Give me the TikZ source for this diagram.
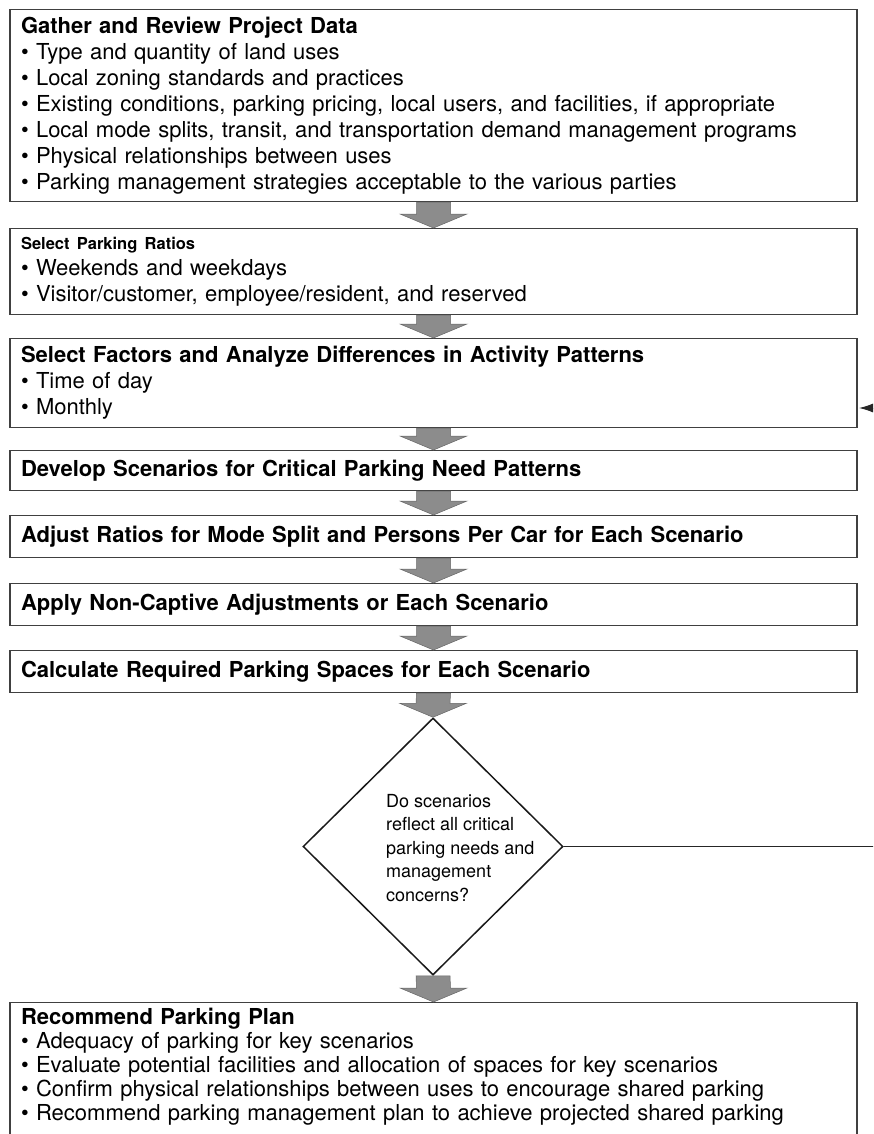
\documentclass[tikz,border=0pt]{standalone}
\usepackage{fontspec}
\setmainfont{TeX Gyre Heros}
\usetikzlibrary{shapes.geometric,arrows.meta,calc}

\newcommand{\bul}{\textbullet\ }
% gray block arrow from the bottom of one step to the top of the next
\newcommand{\flowarrow}[2]{%
  \draw[blockarrow] ($(#1.south)+(-17,0)$) -- ($(#2.north)+(-17,-14)$)
    -- ($(#2.north)+(-33.5,-14)$) -- (#2.north) -- ($(#2.north)+(33.5,-14)$)
    -- ($(#2.north)+(17,-14)$) -- ($(#1.south)+(17,0)$) -- cycle;}

\begin{document}
\begin{tikzpicture}[x=1pt,y=-1pt,
  stepbox/.style={draw=black!75,line width=1.1pt,anchor=north,
    minimum width=847pt,text width=825pt,inner xsep=11pt,inner ysep=0pt,
    align=left,font=\fontsize{22}{26}\selectfont},
  blockarrow/.style={fill=black!45,draw=black!60,line width=0.5pt},
  decide/.style={diamond,draw=black!90,line width=1.5pt,aspect=1,
    minimum width=260pt,minimum height=257pt,inner sep=0pt},
  asktext/.style={anchor=west,align=left,inner sep=0pt,
    font=\fontsize{18}{23.5}\selectfont}]
  \useasboundingbox (0,0) rectangle (873,1134);
  \clip (0,0) rectangle (873,1134);

  \node[stepbox,minimum height=192pt] (data) at (433.5,9) {\textbf{Gather and Review Project Data}\\
    \bul Type and quantity of land uses\\
    \bul Local zoning standards and practices\\
    \bul Existing conditions, parking pricing, local users, and facilities, if appropriate\\
    \bul Local mode splits, transit, and transportation demand management programs\\
    \bul Physical relationships between uses\\
    \bul Parking management strategies acceptable to the various parties};
  \node[stepbox,minimum height=86pt] (ratios) at (433.5,228) {{\fontsize{16.5}{18}\selectfont\bfseries Select Parking Ratios}\\
    \bul Weekends and weekdays\\
    \bul Visitor/customer, employee/resident, and reserved};
  \node[stepbox,minimum height=89pt] (factors) at (433.5,338) {\textbf{Select Factors and Analyze Differences in Activity Patterns}\\
    \bul Time of day\\
    \bul Monthly};
  \node[stepbox,minimum height=40pt] (scen) at (433.5,450) {\textbf{Develop Scenarios for Critical Parking Need Patterns}};
  \node[stepbox,minimum height=42pt] (adjust) at (433.5,515) {\textbf{Adjust Ratios for Mode Split and Persons Per Car for Each Scenario}};
  \node[stepbox,minimum height=42pt] (apply) at (433.5,583) {\textbf{Apply Non-Captive Adjustments or Each Scenario}};
  \node[stepbox,minimum height=42pt] (calc) at (433.5,650) {\textbf{Calculate Required Parking Spaces for Each Scenario}};
  \node[decide] (check) at (433,846.5) {};
  \node[asktext] (ask) at (386,848) {Do scenarios\\reflect all critical\\parking needs and\\management\\concerns?};
  % last box runs on past the bottom edge
  \node[stepbox,inner ysep=6pt,font=\fontsize{22}{24}\selectfont] (plan) at (433.5,1002) {\textbf{Recommend Parking Plan}\\
    \bul Adequacy of parking for key scenarios\\
    \bul Evaluate potential facilities and allocation of spaces for key scenarios\\
    \bul Confirm physical relationships between uses to encourage shared parking\\
    \bul Recommend parking management plan to achieve projected shared parking\\
    \mbox{}};

  \flowarrow{data}{ratios}
  \flowarrow{ratios}{factors}
  \flowarrow{factors}{scen}
  \flowarrow{scen}{adjust}
  \flowarrow{adjust}{apply}
  \flowarrow{apply}{calc}
  \flowarrow{calc}{check}
  \flowarrow{check}{plan}

  % loop back when a scenario is missing
  \coordinate (back) at (890,408);
  \draw[line width=1pt,black!85] (check.east) -- (back |- check.east) -- (back);
  \draw[line width=1pt,black!85,-{Latex[length=14pt,width=9pt]}] (back) -- ([xshift=1.5pt]factors.east |- back);
\end{tikzpicture}
\end{document}
